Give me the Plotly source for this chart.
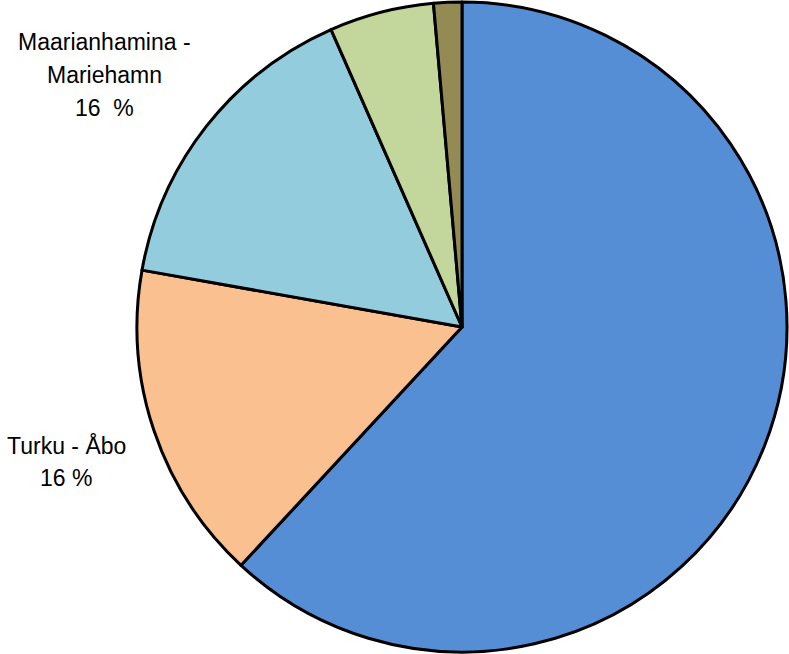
import plotly.graph_objects as go

names = ["Helsinki - Helsingfors", "Turku - Åbo", "Maarianhamina - Mariehamn", "Other A", "Other B"]
values = [61.9, 15.9, 15.6, 5.2, 1.4]
colors = ["#558ED5", "#FAC090", "#93CDDD", "#C3D69B", "#948A54"]
label_lines = {1: ["Turku - Åbo", "16 %"], 2: ["Maarianhamina -", "Mariehamn", "16  %"]}
label_pos = {1: (66, 445), 2: (104, 42)}
line_gap = 33

W, H = 789, 654
fig = go.Figure(go.Pie(
    labels=names, values=values, sort=False, direction="clockwise", rotation=0,
    marker=dict(colors=colors, line=dict(color="black", width=3)),
    textinfo="none", hoverinfo="label+percent", showlegend=False,
    domain=dict(x=[137 / W, 787 / W], y=[0, 1]),
))
for i, lines in label_lines.items():
    px, py = label_pos[i]
    for k, txt in enumerate(lines):
        fig.add_annotation(x=px / W, y=1 - (py + k * line_gap) / H, xref="paper", yref="paper", text=txt,
                           showarrow=False, align="center", xanchor="center", yanchor="middle",
                           font=dict(family="Liberation Sans Narrow, Arial Narrow, Liberation Sans, Arial", size=23, color="black"))
fig.update_layout(width=W, height=H, margin=dict(l=0, r=0, t=0, b=0),
                  paper_bgcolor="white", plot_bgcolor="white")
fig.write_html("out.html")
